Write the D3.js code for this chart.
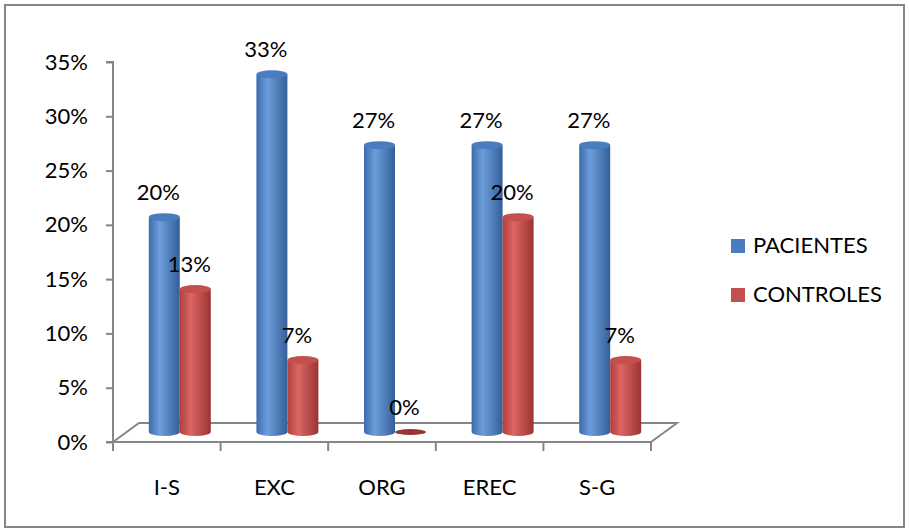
<!DOCTYPE html>
<html><head><meta charset="utf-8">
<script src="https://cdn.jsdelivr.net/npm/d3@7"></script>
<style>body{margin:0;background:#fff}svg{display:block}text{font-family:Lato,"Open Sans",sans-serif;fill:#000}</style>
</head><body><svg id="c" width="909" height="532"></svg>
<script>
const categories = ["I-S","EXC","ORG","EREC","S-G"];
const seriesNames = ["PACIENTES","CONTROLES"];
const pacientes = [0.20,0.333,0.267,0.267,0.267];
const controles = [0.133,0.067,0,0.20,0.067];
const yTicks = [0,0.05,0.10,0.15,0.20,0.25,0.30,0.35];
const colors = {PACIENTES:["#3b6bab","#6d9edb","#4a7cc0","#345f99"], CONTROLES:["#b13f3c","#dc6664","#c4504d","#9a3532"]};

const svg = d3.select("#c");
svg.append("rect").attr("x",5).attr("y",5).attr("width",899).attr("height",522).attr("fill","#fff").attr("stroke","#868686").attr("stroke-width",2);

const x = d3.scaleBand().domain(categories).range([113,651]).paddingInner(0.424).paddingOuter(0.212);
const xs = d3.scaleBand().domain(seriesNames).range([0,x.bandwidth()]);
const y = d3.scaleLinear().domain([0,0.35]).range([442,62]);
// bar plane (set back in depth, slightly smaller by perspective)
const yBar = d3.scaleLinear().domain([0,0.35]).range([432,56]);
const dx=13, DX=26, DY=-19;
const fmt = d3.format(".0%");
const FS = "22px";

const defs = svg.append("defs");
seriesNames.forEach(s=>{
  const g = defs.append("linearGradient").attr("id","g"+s).attr("x1","0").attr("x2","1").attr("y1","0").attr("y2","0");
  const c = colors[s];
  g.append("stop").attr("offset","0").attr("stop-color",c[0]);
  g.append("stop").attr("offset","0.35").attr("stop-color",c[1]);
  g.append("stop").attr("offset","1").attr("stop-color",c[3]);
});

const axisColor="#868686";
const x0=x.range()[0], x1=x.range()[1], y0=y(0);
svg.append("path").attr("d",`M${x0},${y0}L${x0+DX},${y0+DY}L${x1+DX},${y0+DY}L${x1},${y0}`).attr("fill","none").attr("stroke",axisColor).attr("stroke-width",2);

const yAxis = d3.axisLeft(y).tickValues(yTicks).tickFormat(fmt).tickSize(7).tickPadding(18);
const ya = svg.append("g").attr("transform",`translate(${x0},0)`).call(yAxis);
ya.select(".domain").attr("stroke",axisColor).attr("stroke-width",2).attr("d",`M-7,${y(0.35)}H0V${y(0)}H-7`);
ya.selectAll(".tick line").attr("stroke",axisColor).attr("stroke-width",2);
ya.selectAll(".tick text").style("font-size",FS).style("font-family","Lato,'Open Sans',sans-serif").attr("fill","#000");

const step = x.step();
const xa = svg.append("g").attr("transform",`translate(0,${y0})`);
xa.append("line").attr("x1",x0).attr("x2",x1).attr("stroke",axisColor).attr("stroke-width",2);
d3.range(categories.length+1).forEach(i=>{
  xa.append("line").attr("x1",x0+i*step).attr("x2",x0+i*step).attr("y1",0).attr("y2",9).attr("stroke",axisColor).attr("stroke-width",2);
});
xa.selectAll("text.cat").data(categories).join("text").attr("class","cat")
  .attr("x",d=>x(d)+x.bandwidth()/2).attr("y",53).attr("text-anchor","middle").style("font-size",FS).text(d=>d);

const data = [];
categories.forEach((c,i)=>{
  data.push({cat:c,s:"PACIENTES",v:pacientes[i]});
  data.push({cat:c,s:"CONTROLES",v:controles[i]});
});
const bars = svg.append("g");
data.forEach(d=>{
  const w = xs.bandwidth();
  const bx = x(d.cat)+xs(d.s)+dx;
  const rx = w/2, ry=4;
  const cx = bx+rx;
  const yb = yBar(0), yt = yBar(d.v);
  const c = colors[d.s];
  if(d.v>0){
    bars.append("path").attr("d",`M${bx},${yt}L${bx},${yb}A${rx},${ry} 0 0 0 ${bx+w},${yb}L${bx+w},${yt}Z`).attr("fill",`url(#g${d.s})`);
    bars.append("ellipse").attr("cx",cx).attr("cy",yt).attr("rx",rx).attr("ry",ry).attr("fill",c[2]);
  } else {
    bars.append("ellipse").attr("cx",cx).attr("cy",yb).attr("rx",rx).attr("ry",3).attr("fill",c[3]);
  }
  svg.append("text").attr("x",cx-6).attr("y",yt-17).attr("text-anchor","middle").style("font-size",FS).text(fmt(d.v));
});

const lg = svg.append("g");
seriesNames.forEach((s,i)=>{
  const yy = 239+i*49;
  lg.append("rect").attr("x",731).attr("y",yy).attr("width",14).attr("height",14).attr("fill",colors[s][2]);
  lg.append("text").attr("x",753).attr("y",yy+14).style("font-size",FS).text(s);
});
</script></body></html>
